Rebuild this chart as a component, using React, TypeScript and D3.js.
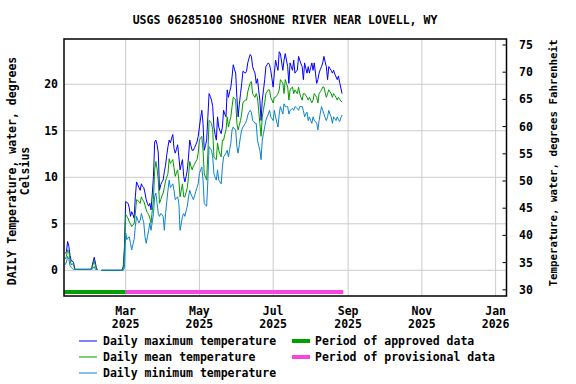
import React from "react";
import * as d3 from "d3";

const TITLE = "USGS 06285100 SHOSHONE RIVER NEAR LOVELL, WY";
const START_DATE = "2025-01-10";
const APPROVED = ["2025-01-09", "2025-03-01"];
const PROVISIONAL = ["2025-03-01", "2025-08-28"];
const X_TICKS = ["2025-03-01", "2025-05-01", "2025-07-01", "2025-09-01", "2025-11-01", "2026-01-01"];
const X_TICK_LABELS = [["Mar", "2025"], ["May", "2025"], ["Jul", "2025"], ["Sep", "2025"], ["Nov", "2025"], ["Jan", "2026"]];
const C_TICKS = [0, 5, 10, 15, 20];
const F_TICKS = [30, 35, 40, 45, 50, 55, 60, 65, 70, 75];

const maxTemp: (number | null)[] = [
  1.8, 2.0, 3.1, 2.6, 1.6, 1.0, 1.0, 0.8, 0.1,
  0.1, 0.1, 0.1, 0.1, 0.1, 0.1, 0.1, 0.1, 0.1, 0.1, 0.1, 0.1, 0.1,
  0.3, 0.9, 1.4, 0.8, 0.1, 0.1, null, null,
  0.0, 0.0, 0.0, 0.0, 0.0, 0.0, 0.0, 0.0, 0.0, 0.0, 0.0, 0.0, 0.0, 0.0, 0.0, 0.0, 0.0, 0.0,
  0.4, 2.5,
  7.4, 7.3, 7.2, 6.7, 5.8, 6.3, 6.0, 5.6, 7.9, 9.5, 9.2, 8.9, 8.6, 9.3, 9.0, 8.9,
  8.3, 7.6, 7.2, 6.9, 7.2, 6.5, 8.2, 10.1, 13.8, 14.0, 13.5, 12.6, 8.6, 9.2, 9.5, 9.7,
  10.6, 11.3, 12.4, 13.3, 14.0, 13.7, 14.2, 14.6, 13.1, 12.6, 13.0, 13.5, 12.2, 10.8, 11.4, 11.9,
  10.1, 9.5, 10.1, 10.8, 12.2, 14.0, 13.4, 12.9, 12.9, 13.2, 13.5, 13.8,
  14.4, 15.4, 16.4, 17.2, 15.8, 12.9, 13.4, 14.0, 16.5, 19.0, 18.7, 18.3, 17.6, 15.4, 14.6, 14.0,
  16.5, 15.4, 15.0, 14.7, 15.4, 17.2, 16.8, 16.5, 19.4, 18.6, 19.2, 19.7, 20.8, 22.1, 21.6, 21.2,
  18.6, 16.5, 17.8, 19.0, 20.1, 21.4, 21.3, 21.2, 21.4, 22.3, 22.8, 23.2, 23.0, 21.9, 21.5, 21.2,
  20.1, 20.6, 19.4, 18.3, 16.1, 18.3, 19.4, 20.5, 21.9, 22.1, 22.3,
  22.1, 21.5, 20.6, 19.7, 21.2, 22.6, 22.0, 21.5, 23.5, 23.3, 22.4, 21.5, 22.6, 23.3, 22.6, 21.9,
  20.1, 22.3, 21.9, 21.5, 22.6, 21.2, 21.4, 21.5, 23.0, 22.6, 22.2, 21.9, 20.5, 22.3, 21.7, 21.2,
  21.9, 21.2, 21.8, 22.3, 21.5, 22.3, 21.2, 20.1, 20.5, 21.2, 21.6, 21.9, 22.3, 23.0, 22.4, 21.9,
  20.5, 21.9, 21.7, 21.5, 21.2, 21.5, 21.1, 20.8, 20.5, 20.9, 20.2, 19.6, 19.0,
];

const meanTemp: (number | null)[] = [
  1.2, 1.5, 2.2, 2.0, 1.1, 0.6, 0.7, 0.5, 0.1,
  0.1, 0.1, 0.1, 0.1, 0.1, 0.1, 0.1, 0.1, 0.1, 0.1, 0.1, 0.1, 0.1,
  0.2, 0.6, 1.0, 0.5, 0.1, 0.1, null, null,
  0.0, 0.0, 0.0, 0.0, 0.0, 0.0, 0.0, 0.0, 0.0, 0.0, 0.0, 0.0, 0.0, 0.0, 0.0, 0.0, 0.0, 0.0,
  0.2, 1.8,
  6.0, 5.8, 5.6, 5.2, 5.0, 4.7, 4.9, 5.0, 6.1, 7.6, 7.5, 7.4, 7.2, 7.9, 7.6, 7.4,
  7.0, 6.5, 6.2, 6.0, 5.6, 5.1, 6.4, 7.6, 10.8, 11.7, 10.9, 9.7, 7.2, 7.6, 8.0, 8.3,
  8.9, 9.6, 10.0, 10.4, 12.0, 11.5, 11.7, 11.9, 11.0, 10.1, 10.5, 10.8, 9.7, 7.9, 8.6, 9.3,
  7.9, 7.9, 8.4, 8.9, 10.1, 11.7, 11.2, 10.8, 11.2, 11.4, 11.7, 11.9,
  12.6, 14.0, 14.2, 14.4, 12.9, 10.4, 10.0, 9.7, 12.6, 16.1, 16.0, 15.8, 15.1, 12.2, 12.0, 11.9,
  13.7, 12.9, 12.5, 12.2, 14.0, 14.0, 14.6, 15.1, 16.5, 15.4, 16.0, 16.5, 17.6, 18.6, 18.5, 18.3,
  15.8, 15.1, 15.6, 16.1, 16.9, 18.0, 18.2, 18.3, 18.3, 19.2, 19.7, 20.1, 20.3, 19.0, 18.8, 18.6,
  19.0, 18.6, 17.2, 15.8, 14.4, 16.5, 17.3, 18.0, 19.0, 19.2, 19.4,
  19.4, 18.6, 18.3, 18.0, 18.6, 18.6, 18.8, 19.0, 19.4, 20.5, 20.3, 20.1, 19.0, 20.5, 20.1, 19.7,
  18.3, 19.4, 19.6, 19.7, 19.0, 19.4, 19.2, 19.0, 19.7, 19.0, 18.6, 18.3, 19.0, 19.0, 18.8, 18.6,
  18.3, 18.6, 18.3, 18.0, 18.3, 19.0, 18.8, 18.6, 18.0, 19.0, 19.2, 19.4, 19.7, 19.7, 19.1, 18.6,
  19.0, 19.4, 19.2, 19.0, 18.6, 19.0, 18.8, 18.6, 18.3, 18.6, 18.4, 18.2, 18.1,
];

const minTemp: (number | null)[] = [
  0.6, 0.9, 1.5, 1.2, 0.5, 0.3, 0.2, 0.1, 0.1,
  0.1, 0.1, 0.1, 0.1, 0.1, 0.1, 0.1, 0.1, 0.1, 0.1, 0.1, 0.1, 0.1,
  0.1, 0.2, 0.4, 0.1, 0.1, 0.1, null, null,
  0.0, 0.0, 0.0, 0.0, 0.0, 0.0, 0.0, 0.0, 0.0, 0.0, 0.0, 0.0, 0.0, 0.0, 0.0, 0.0, 0.0, 0.0,
  0.0, 0.3,
  4.0, 3.3, 3.5, 3.6, 2.9, 2.2, 2.8, 3.3, 4.7, 5.8, 5.4, 5.1, 5.4, 6.1, 5.6, 5.1,
  3.6, 2.9, 3.6, 4.3, 5.1, 4.3, 5.2, 6.1, 7.9, 8.3, 7.2, 6.1, 5.8, 6.1, 6.0, 5.8,
  4.3, 6.1, 7.4, 8.6, 9.7, 8.9, 9.1, 9.3, 8.6, 7.6, 7.8, 7.9, 7.2, 4.3, 5.0, 5.8,
  6.1, 5.8, 6.4, 6.9, 7.9, 8.6, 8.2, 7.9, 7.6, 8.0, 8.5, 8.9,
  9.3, 10.4, 10.8, 11.1, 9.7, 7.2, 7.0, 6.9, 9.7, 13.3, 13.1, 12.9, 12.2, 10.4, 10.0, 9.7,
  10.8, 9.7, 9.5, 9.3, 11.1, 12.2, 12.4, 12.6, 12.9, 12.2, 13.0, 13.7, 15.1, 15.4, 15.2, 15.1,
  13.3, 12.6, 13.5, 14.4, 15.1, 15.4, 15.6, 15.8, 16.1, 16.7, 17.0, 17.2, 17.0, 16.1, 16.0, 15.8,
  15.8, 14.0, 13.4, 12.9, 11.9, 14.0, 14.7, 15.4, 16.1, 16.5, 16.8,
  17.2, 16.5, 16.3, 16.1, 17.2, 16.5, 15.9, 15.4, 16.8, 17.6, 17.2, 16.8, 17.9, 17.6, 17.6, 17.6,
  16.8, 17.2, 17.3, 17.4, 17.2, 17.6, 17.5, 17.4, 17.2, 17.6, 17.6, 17.6, 17.2, 16.5, 16.8, 17.0,
  16.1, 16.5, 16.1, 15.8, 16.5, 16.1, 16.0, 15.8, 15.1, 16.1, 16.9, 17.6, 17.2, 16.8, 16.4, 16.1,
  16.5, 17.2, 16.8, 16.5, 15.8, 16.5, 16.3, 16.1, 16.5, 16.2, 16.0, 16.4, 16.7,
];

const SERIES = [
  { name: "Daily maximum temperature", values: maxTemp, color: "#0000ff" },
  { name: "Daily mean temperature", values: meanTemp, color: "#009a00" },
  { name: "Daily minimum temperature", values: minTemp, color: "#0a84cc" },
];

const FONT = "'DejaVu Sans Mono', 'Liberation Mono', monospace";
const W = 576, H = 384;
const L = 64, R = 506.5, T = 39, B = 296;

const parse = d3.utcParse("%Y-%m-%d");

export default function App() {
  const x = d3.scaleUtc()
    .domain([parse("2025-01-09")!, parse("2026-01-10")!])
    .range([L, R]);
  const y = d3.scaleLinear().domain([-2.763, 24.87]).range([B, T]);
  const yF = d3.scaleLinear().domain([28.86, 76.1]).range([B, T]);

  const start = parse(START_DATE)!;
  const dateAt = (i: number) => d3.utcDay.offset(start, i);

  const line = d3.line<number | null>()
    .defined((d) => d !== null)
    .x((_, i) => x(dateAt(i)))
    .y((d) => y(d as number));

  const txt = { fontFamily: FONT, fontWeight: 700 as const, fill: "#000" };

  return (
    <svg width={W} height={H} style={{ position: "absolute", left: 0, top: 0, background: "#fff" }}>
      <rect x={0} y={0} width={W} height={H} fill="#fff" />
      <text x={285} y={24} textAnchor="middle" fontSize={11.5} {...txt}>{TITLE}</text>

      {/* grid */}
      {C_TICKS.map((v) => (
        <line key={"gy" + v} x1={L} x2={R} y1={y(v)} y2={y(v)} stroke="#cccccc" strokeWidth={1} />
      ))}
      {X_TICKS.map((d) => (
        <line key={"gx" + d} x1={x(parse(d)!)} x2={x(parse(d)!)} y1={T} y2={B} stroke="#cccccc" strokeWidth={1} />
      ))}

      {/* data */}
      <g fill="none" strokeWidth={1}>
        {SERIES.map((s) => (
          <path key={s.name} d={line(s.values) || ""} stroke={s.color} />
        ))}
      </g>

      {/* approval bars */}
      <line x1={x(parse(APPROVED[0])!)} x2={x(parse(APPROVED[1])!)} y1={292} y2={292} stroke="#00a000" strokeWidth={4} />
      <line x1={x(parse(PROVISIONAL[0])!)} x2={x(parse(PROVISIONAL[1])!)} y1={292} y2={292} stroke="#f844e0" strokeWidth={4} />

      {/* frame */}
      <rect x={L} y={T} width={R - L} height={B - T} fill="none" stroke="#000" strokeWidth={1.5} />

      {/* right ticks */}
      {F_TICKS.map((v) => (
        <line key={"rt" + v} x1={R - 4} x2={R} y1={yF(v)} y2={yF(v)} stroke="#000" strokeWidth={1} />
      ))}

      {/* left tick labels */}
      {C_TICKS.map((v) => (
        <text key={"ly" + v} x={58} y={y(v) + 4} textAnchor="end" fontSize={11.5} {...txt}>{v}</text>
      ))}
      {F_TICKS.map((v) => (
        <text key={"ry" + v} x={519} y={yF(v) + 4} textAnchor="start" fontSize={11.5} {...txt}>{v}</text>
      ))}
      {X_TICKS.map((d, i) => (
        <g key={"xl" + d}>
          <text x={x(parse(d)!)} y={315} textAnchor="middle" fontSize={11.5} {...txt}>{X_TICK_LABELS[i][0]}</text>
          <text x={x(parse(d)!)} y={328} textAnchor="middle" fontSize={11.5} {...txt}>{X_TICK_LABELS[i][1]}</text>
        </g>
      ))}

      {/* axis titles */}
      <text transform="translate(16,171) rotate(-90)" textAnchor="middle" fontSize={11.5} {...txt}>DAILY Temperature, water, degrees</text>
      <text transform="translate(29,171) rotate(-90)" textAnchor="middle" fontSize={11.5} {...txt}>Celsius</text>
      <text transform="translate(557,163) rotate(-90)" textAnchor="middle" fontSize={10.8} {...txt}>Temperature, water, degrees Fahrenheit</text>

      {/* legend */}
      {SERIES.map((s, i) => (
        <g key={"lg" + s.name}>
          <line x1={79} x2={97} y1={341 + i * 16} y2={341 + i * 16} stroke={s.color} strokeWidth={1} />
          <text x={103} y={345 + i * 16} fontSize={11.5} {...txt}>{s.name}</text>
        </g>
      ))}
      <line x1={292} x2={310} y1={341} y2={341} stroke="#00a000" strokeWidth={4} />
      <text x={315} y={345} fontSize={11.5} {...txt}>Period of approved data</text>
      <line x1={292} x2={310} y1={357} y2={357} stroke="#f844e0" strokeWidth={4} />
      <text x={315} y={361} fontSize={11.5} {...txt}>Period of provisional data</text>
    </svg>
  );
}
